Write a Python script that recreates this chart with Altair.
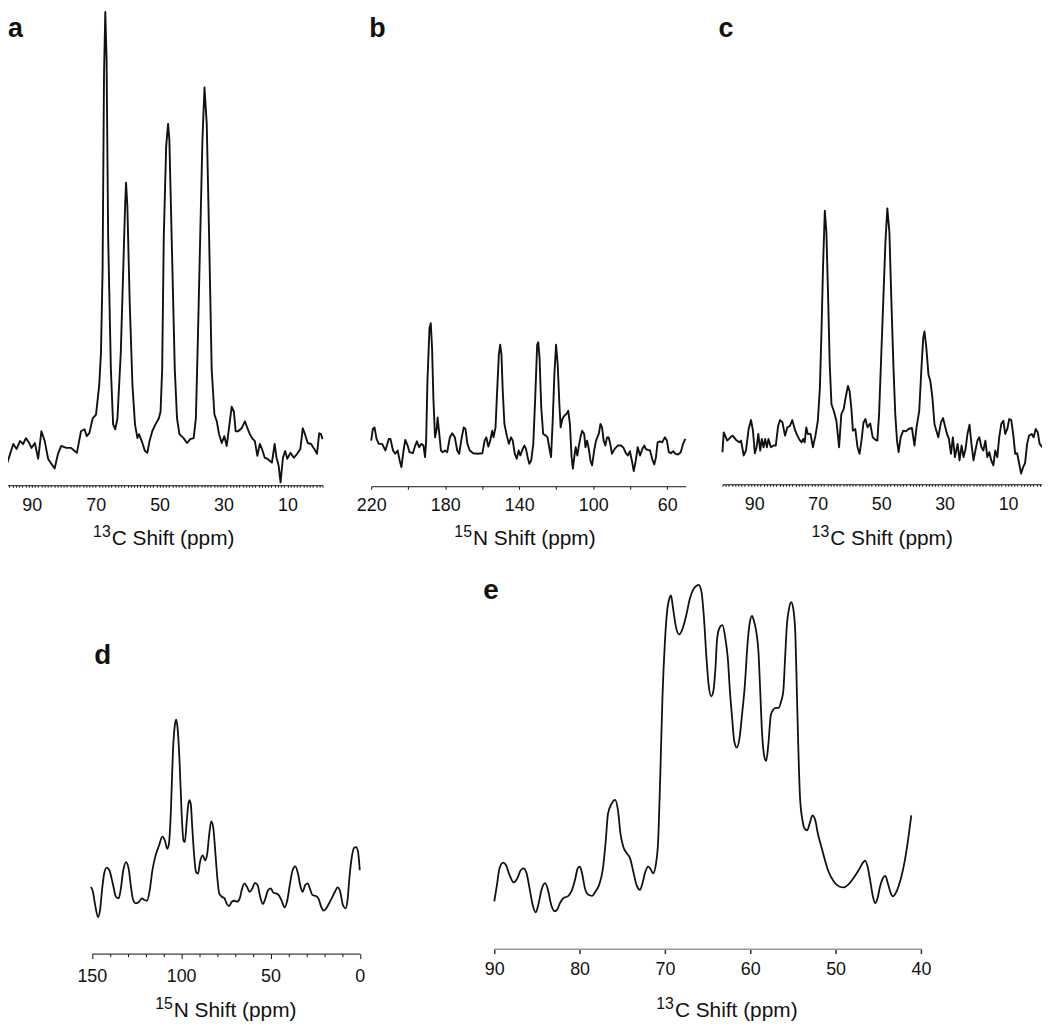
import altair as alt
import pandas as pd

FONT = "Liberation Sans"
W = 1042
H = 1019
INK = "#111111"

# ---------------- data ----------------
# (a) 13C spectrum
a_ppm = [99.4, 97.65, 95.8, 94.75, 93.7, 92.7, 91.85, 90.8, 90.1, 89.05,
         88.0, 87.0, 85.95, 84.9, 83.9, 82.85, 81.8, 80.8, 79.2, 77.7,
         75.9, 74.6, 73.5, 72.8, 72.0, 70.95, 69.9, 68.9, 68.35, 67.85,
         67.4, 67.0, 66.6, 66.1, 65.25, 64.55, 63.9, 63.2, 62.15, 61.4,
         60.8, 60.5, 60.1, 59.35, 58.5, 57.7, 56.95, 56.45, 55.6, 54.6,
         53.85, 53.15, 52.3, 51.3, 50.25, 49.7, 49.2, 48.7, 47.95, 47.35,
         46.95, 46.1, 45.25, 44.55, 43.8, 42.5, 41.45, 40.4, 39.35, 38.65,
         38.0, 37.3, 36.6, 35.95, 35.25, 34.5, 33.7, 32.85, 32.1, 31.4,
         30.55, 29.75, 29.0, 28.3, 27.45, 26.75, 26.2, 25.4, 24.35, 23.3,
         22.5, 21.75, 21.05, 20.2, 19.4, 18.65, 17.95, 17.1, 16.3, 15.55,
         14.85, 14.0, 13.4, 12.75, 12.15, 11.4, 10.7, 10.05, 9.05, 8.0,
         6.95, 5.95, 5.2, 4.5, 3.65, 2.6, 1.6, 0.75, 0.05, -0.5,
         -1.0]
a_int = [55, 23, 42, 37, 45, 42, 48, 43, 38, 43,
         27, 55, 45, 27, 22, 17, 32, 40, 38, 38,
         33, 55, 57, 50, 53, 68, 72, 102, 135, 218,
         418, 482, 435, 252, 118, 62, 57, 68, 135, 218,
         285, 308, 285, 185, 102, 62, 48, 52, 45, 35,
         33, 45, 55, 62, 68, 75, 118, 252, 345, 368,
         352, 235, 118, 68, 52, 48, 43, 47, 48, 68,
         152, 252, 352, 405, 368, 252, 118, 72, 65, 52,
         43, 50, 40, 58, 80, 75, 55, 55, 58, 65,
         58, 52, 48, 45, 30, 42, 37, 28, 27, 25,
         23, 42, 28, 20, 3, 28, 35, 27, 33, 28,
         32, 37, 58, 52, 43, 42, 37, 32, 53, 52,
         47]

# (b) 15N spectrum
b_ppm = [220.0, 219.1, 218.2, 217.1, 215.9, 214.1, 212.3, 210.5, 209.6, 208.2,
         207.0, 205.7, 204.6, 203.7, 202.5, 201.6, 200.3, 199.3, 197.5, 196.2,
         195.3, 194.1, 193.0, 191.75, 190.9, 190.3, 189.6, 188.5, 187.8, 187.1,
         186.4, 185.5, 184.6, 184.1, 183.2, 182.3, 181.4, 180.1, 178.9, 177.5,
         176.2, 174.8, 173.5, 172.45, 171.2, 170.0, 169.05, 168.0, 166.7, 164.9,
         162.3, 159.9, 158.7, 157.8, 156.7, 155.65, 154.6, 153.9, 152.8, 152.1,
         151.0, 150.3, 149.6, 148.9, 148.0, 146.7, 145.6, 144.4, 143.5, 142.4,
         141.35, 140.3, 139.4, 138.1, 137.2, 136.35, 135.45, 134.55, 133.5, 132.4,
         131.35, 130.3, 129.7, 129.0, 128.1, 127.05, 125.6, 124.7, 123.8, 122.8,
         121.9, 121.0, 120.1, 119.2, 118.3, 117.6, 116.7, 115.6, 114.5, 113.5,
         112.6, 111.7, 111.0, 110.25, 109.5, 108.6, 107.75, 106.9, 106.0, 104.9,
         104.2, 103.3, 102.4, 101.5, 100.6, 99.5, 98.5, 97.0, 96.1, 95.25,
         94.35, 93.45, 92.55, 91.7, 90.8, 89.9, 88.45, 86.7, 84.9, 83.6,
         82.4, 81.3, 80.2, 79.15, 78.1, 77.0, 75.95, 74.7, 73.45, 72.35,
         71.65, 70.6, 69.3, 67.9, 67.0, 66.1, 65.2, 63.95, 62.7, 61.3,
         60.2, 59.15, 58.05, 56.8, 55.55, 54.15, 52.7, 51.45, 50.2]
b_int = [46, 57.7, 59.3, 47.7, 42.7, 42.7, 36, 47.7, 47.7, 36,
         32.7, 36, 26, 19.3, 36, 46.7, 41, 34.3, 33.3, 41,
         45.3, 39.3, 42.7, 41, 29.3, 46, 106, 159.3, 164.3, 139.3,
         89.3, 49.3, 57.7, 69.3, 52.7, 36, 34.3, 36, 34.3, 49.3,
         53.3, 49.3, 36, 32.7, 47.7, 59.3, 57.7, 42.7, 36, 33.3,
         32.7, 33.3, 46, 49.3, 40, 46, 56, 49.3, 59.3, 89.3,
         132.7, 142.7, 132.7, 96, 62.7, 51, 42.7, 49.3, 46, 32.7,
         27.7, 36, 31, 37.7, 41, 37.7, 29.3, 22.7, 26, 42.7,
         89.3, 142.7, 145, 129.3, 79.3, 52.7, 51, 49.3, 39.3, 29.3,
         66, 112.7, 142.7, 122.7, 82.7, 59.3, 67.7, 71, 72.7, 76,
         62.7, 29.3, 17.7, 29.3, 39.3, 31, 41, 49.3, 56, 52.7,
         39.3, 46, 37.7, 26, 21, 36, 46, 52.7, 62.7, 59.3,
         46, 41, 49.3, 49.3, 42.7, 32.7, 37.7, 41, 41, 38.7,
         33.3, 31, 35.3, 26, 15.3, 26, 39.3, 31, 37.7, 41,
         37.7, 36.7, 36, 26, 22, 29.3, 44.3, 45.3, 44.3, 49.3,
         46, 34.3, 33.3, 35.3, 32.7, 32, 34.3, 42.7, 47.7]

# (c) 13C spectrum
c_ppm = [100.0, 99.6, 98.5, 97.5, 96.8, 95.7, 94.7, 94.15, 93.3, 92.6,
         91.75, 91.0, 90.4, 89.8, 89.25, 88.7, 88.1, 87.6, 87.05, 86.55,
         86.0, 85.5, 84.75, 83.9, 83.2, 82.45, 81.85, 81.1, 80.3, 79.55,
         78.7, 78.0, 77.15, 76.4, 75.7, 75.05, 74.55, 74.1, 73.6, 73.1,
         72.25, 71.5, 70.7, 69.95, 69.3, 68.8, 68.3, 67.75, 67.25, 66.7,
         66.2, 65.65, 64.95, 64.1, 63.25, 62.55, 61.8, 61.2, 60.45, 59.95,
         59.4, 58.9, 58.15, 57.45, 56.8, 56.2, 55.55, 54.95, 54.3, 53.45,
         52.65, 51.8, 51.2, 50.65, 50.0, 49.3, 48.65, 48.05, 47.4, 46.8,
         46.15, 45.55, 45.0, 44.5, 43.85, 43.05, 42.2, 41.35, 40.3, 39.5,
         38.85, 38.0, 37.3, 36.75, 36.35, 35.75, 35.1, 34.5, 33.85, 33.2,
         32.6, 32.0, 31.15, 30.5, 29.9, 29.25, 28.65, 28.0, 27.4, 26.75,
         25.9, 25.3, 24.65, 24.05, 23.4, 22.8, 22.15, 21.55, 20.9, 20.3,
         19.65, 19.05, 18.4, 17.8, 17.15, 16.55, 15.9, 15.3, 14.65, 14.05,
         13.4, 12.8, 12.15, 11.5, 10.9, 10.25, 9.65, 9.0, 8.4, 7.75,
         7.15, 6.5, 5.9, 5.25, 4.65, 4.0, 3.4, 2.55, 1.95, 1.3,
         0.65, 0.05, -0.8]
c_int = [32.3, 52.3, 44, 47.3, 49, 44.7, 42.3, 44, 29, 34,
         55.7, 64.7, 54, 31.3, 37.3, 50.7, 34, 45.7, 37.3, 45.7,
         37.3, 45.7, 37.3, 39, 39, 59, 64.7, 62.3, 49, 57.3,
         59, 64.7, 54.7, 49, 44.7, 42.3, 45.7, 42.3, 57.3, 50.7,
         50.7, 37.3, 49, 64, 97.3, 154, 220.7, 275.7, 254, 187.3,
         120.7, 80.7, 74, 64, 37.3, 70.7, 75.7, 87.3, 99, 94,
         77.3, 54, 55.7, 37.3, 30.7, 44, 62.3, 65.7, 57.3, 61.3,
         47.3, 44.7, 44, 70.7, 127.3, 187.3, 244, 278, 254, 187.3,
         120.7, 70.7, 44, 32.3, 47.3, 54, 53.3, 55.7, 56.7, 39,
         57.3, 74, 117.3, 147.3, 154, 137.3, 110.7, 104, 87.3, 60.7,
         54, 47.3, 62.3, 66.7, 59, 50.7, 45.7, 30.7, 47.3, 27.3,
         40.7, 24, 39, 27.3, 35.7, 50.7, 60, 40.7, 24, 34,
         44, 47.3, 37.3, 34, 44, 27.3, 32.3, 24, 19, 34,
         27.3, 47.3, 60.7, 64, 50.7, 55.7, 65.7, 64.7, 50.7, 30.7,
         31.3, 20.7, 10.7, 17.3, 21.3, 40.7, 49, 50.7, 47.3, 55.7,
         52.3, 40.7, 37.3]

# (d) 15N spectrum
d_ppm = [150.5, 149.4, 148.0, 146.5, 145.4, 144.3, 143.1, 141.7, 140.2, 138.3,
         136.5, 135.0, 133.9, 132.4, 130.9, 129.4, 128.1, 126.85, 125.4, 123.5,
         122.0, 120.55, 119.1, 117.6, 116.1, 114.3, 112.4, 110.55, 109.1, 107.8,
         106.85, 105.75, 104.6, 103.5, 102.8, 102.0, 100.9, 99.8, 98.7, 97.95,
         97.0, 96.1, 95.4, 94.6, 93.9, 92.8, 91.7, 90.55, 89.45, 87.95,
         86.5, 85.4, 84.25, 83.15, 82.05, 80.95, 79.8, 78.7, 77.2, 75.75,
         74.6, 73.15, 71.65, 70.2, 68.7, 67.2, 66.1, 64.6, 63.15, 61.65,
         60.2, 58.7, 57.2, 55.75, 54.25, 53.15, 51.3, 49.8, 48.35, 46.85,
         45.35, 43.9, 42.05, 40.55, 39.05, 37.6, 36.1, 34.6, 33.15, 32.05,
         30.55, 29.05, 27.95, 26.5, 24.6, 23.15, 21.65, 20.2, 18.7, 17.2,
         15.75, 13.9, 12.4, 10.95, 9.45, 7.95, 6.85, 5.75, 4.6, 3.15,
         2.05, 0.95, 0.0]
d_int = [67.3, 62.3, 47.3, 36.7, 44, 64, 80.7, 86.7, 84, 70.7,
         57.3, 55.7, 64, 84, 92.3, 85.7, 67.3, 54, 50.7, 52.3,
         55.7, 54, 53.3, 64, 84, 99, 109, 118, 114, 105.7,
         110.7, 144, 204, 230.7, 235.7, 227.3, 194, 144, 114, 112.3,
         130.7, 149, 154.7, 150.7, 130.7, 100.7, 82.3, 80.7, 92.3, 99,
         94, 100.7, 120.7, 133.3, 127.3, 104, 77.3, 60.7, 57.3, 55.7,
         50.7, 48, 52.3, 53.3, 52.3, 55.7, 64, 70.7, 67.3, 62.3,
         65.7, 71.3, 69, 57.3, 50, 54, 64, 65.7, 61.3, 60.7,
         59, 54, 46.7, 54, 70.7, 84, 88, 80.7, 67.3, 62.3,
         69, 70.7, 65.7, 59, 58, 55.7, 47.3, 43.3, 45.7, 50.7,
         55.7, 62.3, 66.7, 62.3, 49, 45.7, 54, 77.3, 95.7, 106.7,
         107.3, 102.3, 84]

# (e) 13C spectrum
e_ppm = [90.0, 89.71, 89.38, 88.96, 88.63, 88.21, 87.71, 87.29, 86.88, 86.54,
         86.21, 85.83, 85.5, 85.13, 84.79, 84.46, 84.04, 83.71, 83.33, 82.92,
         82.63, 82.29, 81.88, 81.38, 80.96, 80.54, 80.21, 79.96, 79.71, 79.38,
         78.96, 78.54, 78.13, 77.71, 77.29, 76.96, 76.67, 76.25, 75.83, 75.5,
         75.21, 74.88, 74.46, 74.08, 73.75, 73.33, 72.92, 72.63, 72.29, 71.96,
         71.67, 71.38, 71.04, 70.79, 70.54, 70.29, 70.0, 69.71, 69.46, 69.29,
         69.04, 68.71, 68.33, 67.92, 67.5, 67.08, 66.67, 66.25, 66.04, 65.71,
         65.42, 65.13, 64.88, 64.58, 64.33, 64.08, 63.88, 63.54, 63.25, 62.92,
         62.63, 62.38, 62.13, 61.88, 61.58, 61.25, 60.96, 60.63, 60.33, 60.04,
         59.79, 59.54, 59.29, 59.04, 58.83, 58.63, 58.33, 58.13, 57.88, 57.58,
         57.29, 56.96, 56.67, 56.38, 56.13, 55.92, 55.71, 55.46, 55.21, 54.96,
         54.71, 54.54, 54.38, 54.17, 53.88, 53.63, 53.33, 53.04, 52.71, 52.38,
         52.08, 51.67, 51.25, 50.83, 50.21, 49.58, 49.04, 48.54, 47.92, 47.29,
         46.79, 46.54, 46.25, 45.96, 45.63, 45.38, 45.13, 44.79, 44.46, 44.17,
         43.88, 43.54, 43.29, 42.96, 42.63, 42.29, 41.88, 41.46, 41.13]
e_int = [47.7, 62.7, 81, 86.7, 84.3, 74.3, 66.7, 71, 79.3, 81,
         76, 59.3, 44.3, 36.7, 46, 59.3, 66, 59.3, 44.3, 37.7,
         39.3, 46, 51, 52.7, 57.7, 69.3, 81, 82.7, 76, 61,
         54.3, 53.3, 57.7, 64.3, 79.3, 106, 136, 146, 150, 139.3,
         116, 102.7, 96, 91, 79.3, 64.3, 59.3, 66, 77.7, 82.7,
         80, 76, 86, 109.3, 176, 252.7, 309.3, 342.7, 353.3, 356,
         342.7, 324.3, 316.7, 322.7, 336, 352.7, 362, 366, 366.7, 359.3,
         332.7, 292.7, 266, 254.3, 259.3, 282.7, 312.7, 324.3, 326, 312.7,
         292.7, 259.3, 232.7, 209.3, 202.7, 212.7, 236, 266, 306, 329.3,
         335.3, 329.3, 319.3, 299.3, 259.3, 219.3, 192.7, 189.3, 206, 236,
         241, 242.7, 242.7, 249.3, 259.3, 292.7, 326, 342.7, 349.3, 342.7,
         316, 259.3, 206, 152.7, 129.3, 121, 119.3, 126, 134.3, 129.3,
         116, 102.7, 89.3, 77.7, 67.7, 62.7, 61.7, 64.3, 71, 79.3,
         86.7, 88.7, 82.7, 69.3, 52.7, 46, 49.3, 62.7, 71, 73.3,
         66, 56, 52.7, 56, 62.7, 72.7, 89.3, 112.7, 134.3]

# axis tick values
a_ticks = list(range(99, -2, -1))
b_ticks = list(range(220, 59, -20))
c_ticks = list(range(100, -2, -1))
d_ticks = list(range(150, -1, -10))
e_ticks = list(range(90, 39, -10))


# ---------------- helpers ----------------
def make_axis(values, label_test, axis_y, tick_size, label_padding,
              domain_color=INK, tick_color=INK, domain_width=1.0, tick_width=1.0):
    return alt.Axis(
        values=values, orient="bottom", offset=axis_y - H,
        labelExpr=f"({label_test}) ? datum.label : ''", format="d",
        tickSize=tick_size, tickWidth=tick_width, tickColor=tick_color,
        domainColor=domain_color, domainWidth=domain_width,
        labelPadding=label_padding, labelFontSize=18, labelFont=FONT,
        labelColor=INK, labelOverlap=False, labelFlush=False,
        grid=False, title=None,
    )


def spectrum(ppm, inten, xdom, xrng, ydom, yrng, axis, interp, width=1.9):
    df = pd.DataFrame({"ppm": ppm, "intensity": inten})
    return alt.Chart(df).mark_line(
        color=INK, strokeWidth=width, interpolate=interp, strokeJoin="round"
    ).encode(
        x=alt.X("ppm:Q", scale=alt.Scale(domain=xdom, range=xrng, nice=False, zero=False), axis=axis),
        y=alt.Y("intensity:Q", scale=alt.Scale(domain=ydom, range=yrng, nice=False, zero=False), axis=None),
    )


def label(txt, x, y, size, weight="normal", align="left"):
    return alt.Chart(pd.DataFrame({"t": [txt]})).mark_text(
        font=FONT, fontSize=size, fontWeight=weight, align=align,
        baseline="alphabetic", color=INK
    ).encode(x=alt.value(x), y=alt.value(y), text="t:N")


def axis_title(sup, main, cx, y_base):
    sup_w = 1.112 * 16
    main_w = 5.89 * 21
    total = sup_w + 1 + main_w
    left = cx - total / 2
    return [label(sup, left + sup_w, y_base - 8, 16, align="right"),
            label(main, left + sup_w + 1, y_base, 21, align="left")]


# axis baselines (pixels inside chart)
A_Y, B_Y, C_Y, D_Y, E_Y = 477, 478, 476, 949, 944

layers = [
    spectrum(a_ppm, a_int, [99, -1], [-5, 317], [0, 482], [A_Y, 0],
             make_axis(a_ticks, "datum.value % 20 == 10", A_Y, 2, 9), "linear"),
    spectrum(b_ppm, b_int, [220, 50], [366, 683], [0, 500], [B_Y, B_Y - 500],
             make_axis(b_ticks, "datum.value % 40 == 20", B_Y, 3, 7), "linear"),
    spectrum(c_ppm, c_int, [100, -1], [720, 1043], [0, 500], [C_Y, C_Y - 500],
             make_axis(c_ticks, "datum.value % 20 == 10", C_Y, 2, 9), "linear"),
    spectrum(d_ppm, d_int, [150, 0], [84.5, 354.5], [0, 500], [D_Y, D_Y - 500],
             make_axis(d_ticks, "datum.value % 50 == 0", D_Y,
                       {"condition": {"test": "datum.value % 50 == 0", "value": 5}, "value": 3}, 9),
             "monotone", width=1.8),
    spectrum(e_ppm, e_int, [90, 40], [490, 920], [0, 500], [E_Y, E_Y - 500],
             make_axis(e_ticks, "true", E_Y, 5, 7, domain_color="#9a9a9a",
                       tick_color="#333333", domain_width=1.5, tick_width=1.5),
             "monotone", width=1.8),
    label("a", 0, 25, 27, weight="bold"),
    label("b", 364, 25, 27, weight="bold"),
    label("c", 716, 25, 27, weight="bold"),
    label("d", 87, 657, 28, weight="bold"),
    label("e", 479, 592, 28, weight="bold"),
]
layers += axis_title("13", "C Shift (ppm)", 157, 537)
layers += axis_title("15", "N Shift (ppm)", 521, 537)
layers += axis_title("13", "C Shift (ppm)", 881, 537)
layers += axis_title("15", "N Shift (ppm)", 219.5, 1013)
layers += axis_title("13", "C Shift (ppm)", 724.5, 1013)

chart = alt.layer(*layers).resolve_scale(
    x="independent", y="independent"
).resolve_axis(
    x="independent", y="independent"
).properties(
    width=W, height=H, padding=0, autosize=alt.AutoSizeParams(type="none")
).configure_view(strokeWidth=0)

chart.save("out.html", embed_options={"renderer": "svg", "actions": False})
